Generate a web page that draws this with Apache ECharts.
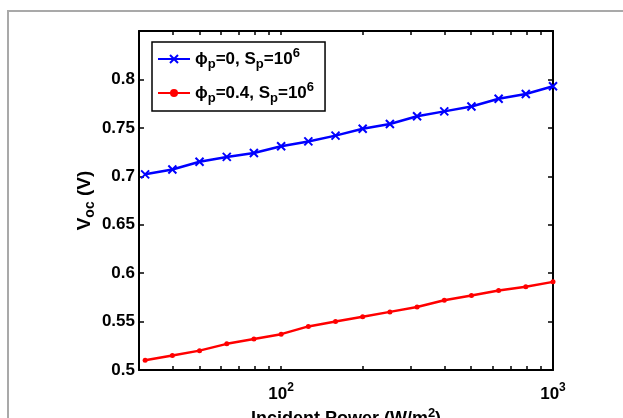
<!DOCTYPE html>
<html><head><meta charset="utf-8">
<script src="https://cdn.jsdelivr.net/npm/echarts@6/dist/echarts.min.js"></script>
<style>html,body{margin:0;padding:0;background:#fff}#c{width:623px;height:418px}</style>
</head><body><div id="c"></div>
<script>
// Incident power (W/m^2), log-spaced
const power = [31.6, 39.8, 50.1, 63.1, 79.4, 100, 125.9, 158.5, 199.5, 251.2, 316.2, 398.1, 501.2, 631.0, 794.3, 1000];
// Voc (V) for phi_p = 0, S_p = 1e6
const vocPhi0 = [0.702, 0.707, 0.715, 0.720, 0.724, 0.731, 0.736, 0.742, 0.749, 0.754, 0.762, 0.767, 0.772, 0.780, 0.785, 0.793];
// Voc (V) for phi_p = 0.4, S_p = 1e6
const vocPhi04 = [0.510, 0.515, 0.520, 0.527, 0.532, 0.537, 0.545, 0.550, 0.555, 0.560, 0.565, 0.572, 0.577, 0.582, 0.586, 0.591];
const seriesNames = ['s0', 's1'];
const legendTexts = ['{t|ϕ}{sub|p}{t|=0, S}{sub|p}{t|=10}{sup|6}', '{t|ϕ}{sub|p}{t|=0.4, S}{sub|p}{t|=10}{sup|6}'];
const xMinorTicks = [40, 50, 60, 70, 80, 90, 100, 200, 300, 400, 500, 600, 700, 800, 900];
const yTickLabels = ['0.5', '0.55', '0.6', '0.65', '0.7', '0.75', '0.8'];

const FONT = 'Liberation Sans, Arial, sans-serif';
function mkRich(fs, sfs, lh) {
  return {
    t: {fontSize: fs, fontWeight: 'bold', fontFamily: FONT, color: '#000', lineHeight: lh},
    sub: {fontSize: sfs, fontWeight: 'bold', fontFamily: FONT, color: '#000', lineHeight: 10, verticalAlign: 'bottom'},
    sup: {fontSize: sfs, fontWeight: 'bold', fontFamily: FONT, color: '#000', lineHeight: 10, verticalAlign: 'top'}
  };
}
const richLegend = mkRich(17, 13, 24);
const richName = mkRich(18, 13, 24);
const richYName = mkRich(19, 14, 24);
const richTick = mkRich(17, 12, 24);

const chart = echarts.init(document.getElementById('c'), null, {renderer: 'canvas'});
const axisLine = {show: true, onZero: false, lineStyle: {color: '#000', width: 2}};
function xAx(pos, labels) {
  return {
    type: 'log', logBase: 10, min: 30, max: 1000, position: pos, gridIndex: 0,
    axisLine: axisLine,
    axisTick: {show: true, inside: true, length: 4, lineStyle: {color: '#000', width: 1.5}, customValues: xMinorTicks},
    splitLine: {show: false}, minorTick: {show: false},
    axisLabel: labels ? {
      show: true, margin: 12, rich: richTick,
      formatter: function (v) {
        const e = Math.log10(v);
        if (Math.abs(e - Math.round(e)) > 1e-6) return '';
        return '{t|10}{sup|' + Math.round(e) + '}';
      }
    } : {show: false},
    name: labels ? '{t|Incident Power (W/m}{sup|2}{t|)}' : '',
    nameLocation: 'middle', nameGap: 37, nameMoveOverlap: false,
    nameTextStyle: {rich: richName}
  };
}
function yAx(pos, labels) {
  return {
    type: 'value', min: 0.5, max: 0.85, interval: 0.05, position: pos, gridIndex: 0,
    axisLine: axisLine,
    axisTick: {show: true, inside: true, length: 5, lineStyle: {color: '#000', width: 1.5}},
    splitLine: {show: false},
    axisLabel: labels ? {
      show: true, margin: 4, fontSize: 17, fontWeight: 'bold', fontFamily: FONT, color: '#000',
      formatter: function (v) {
        const k = Math.round((v - 0.5) / 0.05);
        return k < yTickLabels.length ? yTickLabels[k] : '';
      }
    } : {show: false},
    name: labels ? '{t|V}{sub|oc}{t| (V)}' : '',
    nameLocation: 'middle', nameRotate: 90, nameGap: 42, nameMoveOverlap: false,
    nameTextStyle: {rich: richYName}
  };
}

chart.setOption({
  animation: false,
  backgroundColor: '#fff',
  graphic: [{type: 'rect', z: -10, shape: {x: 8, y: 11, width: 700, height: 500}, style: {fill: 'none', stroke: '#a9a9a9', lineWidth: 2}}],
  grid: {left: 139, right: 70, top: 31, bottom: 48, containLabel: false, outerBoundsMode: 'none'},
  xAxis: [xAx('bottom', true), xAx('top', false)],
  yAxis: [yAx('left', true), yAx('right', false)],
  legend: {
    left: 152, top: 42, orient: 'vertical',
    data: seriesNames,
    itemWidth: 32, itemHeight: 10, itemGap: 10,
    padding: [5, 11, 6, 5],
    borderColor: '#000', borderWidth: 1.5, backgroundColor: '#fff',
    formatter: function (n) { return legendTexts[seriesNames.indexOf(n)]; },
    textStyle: {rich: richLegend, padding: [0, 0, 0, 0]}
  },
  series: [
    {
      name: seriesNames[0], type: 'line', xAxisIndex: 0, yAxisIndex: 0,
      data: power.map((p, i) => [p, vocPhi0[i]]),
      symbol: 'path://M0,0L10,10M10,0L0,10', symbolSize: 8, showAllSymbol: true,
      lineStyle: {color: '#0000ff', width: 2.5},
      itemStyle: {color: '#0000ff', borderColor: '#0000ff', borderWidth: 2}
    },
    {
      name: seriesNames[1], type: 'line', xAxisIndex: 0, yAxisIndex: 0,
      data: power.map((p, i) => [p, vocPhi04[i]]),
      symbol: 'circle', symbolSize: 5, showAllSymbol: true,
      lineStyle: {color: '#ff0000', width: 2.5},
      itemStyle: {color: '#ff0000', borderWidth: 0}
    }
  ]
});
</script></body></html>
